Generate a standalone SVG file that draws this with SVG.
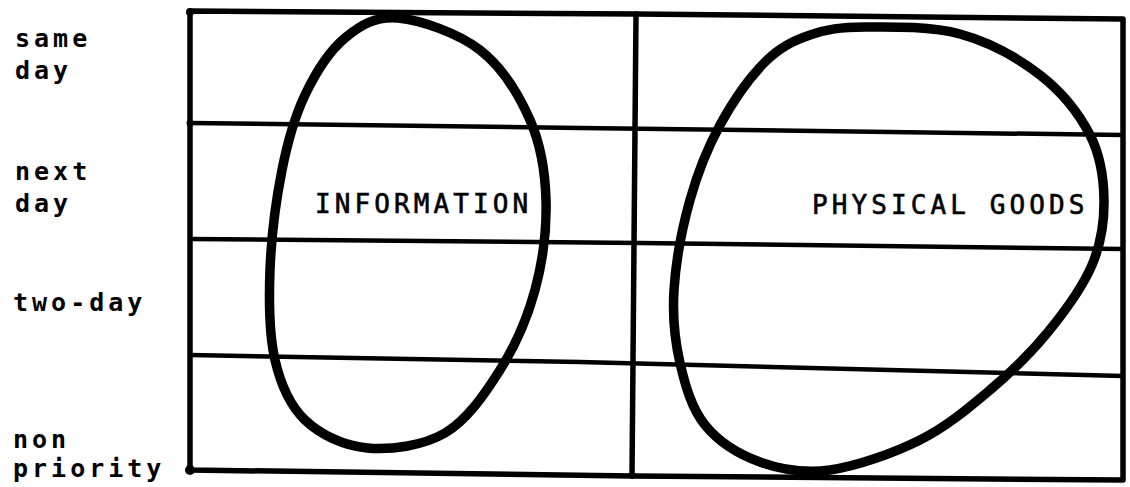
<svg xmlns="http://www.w3.org/2000/svg" width="1130" height="487" viewBox="0 0 1130 487">
<style>
.bg{fill:#fff}
.frame{fill:none;stroke:#000;stroke-width:5.5;stroke-linejoin:round;stroke-linecap:round}
.grid{fill:none;stroke:#000;stroke-width:4.5;stroke-linecap:round}
.blob{fill:none;stroke:#000;stroke-width:9.5;stroke-linejoin:round}
.lbl{font-family:"DejaVu Sans Mono","Liberation Mono",monospace;font-size:25px;font-weight:bold;letter-spacing:4px;fill:#000}
.name{font-family:"DejaVu Sans Mono","Liberation Mono",monospace;font-size:26px;letter-spacing:4.1px;fill:#000;stroke:#000;stroke-width:0.6}
</style>
<rect class="bg" x="0" y="0" width="1130" height="487"/>
<g id="grid">
<path class="frame" d="M190 11 L636 14 L1123 19 L1123 480 L632 476 L190 470 Z"/>
<path class="frame" d="M636 14 L632 476"/>
<path class="grid" d="M190 123 L580 128 L1123 135"/>
<path class="grid" d="M190 239 L640 243 L1123 249"/>
<path class="grid" d="M190 355 L580 362 L1123 376"/>
<circle cx="190" cy="470" r="5" fill="#000"/>
<circle cx="190" cy="12" r="4" fill="#000"/>
<circle cx="190" cy="123" r="3.5" fill="#000"/>
</g>
<g id="information">
<path class="blob" d="M398 18 C420.5 20 458 33 480 50 C502 67 519 95 530 120 C541 145 545.2 171.7 546 200 C546.8 228.3 542.7 261.7 535 290 C527.3 318.3 515 346.2 500 370 C485 393.8 467.2 420 445 433 C422.8 446 390.3 450.2 367 448 C343.7 445.8 320.3 434.7 305 420 C289.7 405.3 280.8 385 275 360 C269.2 335 268.8 301.7 270 270 C271.2 238.3 276.2 199.2 282 170 C287.8 140.8 294.5 117 305 95 C315.5 73 329.5 50.8 345 38 C360.5 25.2 375.5 16 398 18 Z"/>
<text class="name" x="315" y="213">INFORMATION</text>
</g>
<g id="physical-goods">
<path class="blob" d="M865 27 C890 26.8 930.8 26 960 34 C989.2 42 1018.3 58.2 1040 75 C1061.7 91.8 1079.3 114.2 1090 135 C1100.7 155.8 1103.7 178.3 1104 200 C1104.3 221.7 1101.3 243 1092 265 C1082.7 287 1065 311.2 1048 332 C1031 352.8 1011.3 372 990 390 C968.7 408 946.7 426.7 920 440 C893.3 453.3 856.7 466.3 830 470 C803.3 473.7 780.8 469.5 760 462 C739.2 454.5 718.3 441.5 705 425 C691.7 408.5 685.2 385.5 680 363 C674.8 340.5 672.3 317.2 674 290 C675.7 262.8 682.3 227.5 690 200 C697.7 172.5 707.5 148 720 125 C732.5 102 750 77 765 62 C780 47 793.3 40.8 810 35 C826.7 29.2 840 27.2 865 27 Z"/>
<text class="name" x="812" y="214">PHYSICAL GOODS</text>
</g>
<g id="labels">
<text class="lbl" x="15" y="47">same</text>
<text class="lbl" x="15" y="79">day</text>
<text class="lbl" x="15" y="180">next</text>
<text class="lbl" x="15" y="212">day</text>
<text class="lbl" x="13" y="311">two-day</text>
<text class="lbl" x="13" y="448">non</text>
<text class="lbl" x="13" y="477">priority</text>
</g>
</svg>
